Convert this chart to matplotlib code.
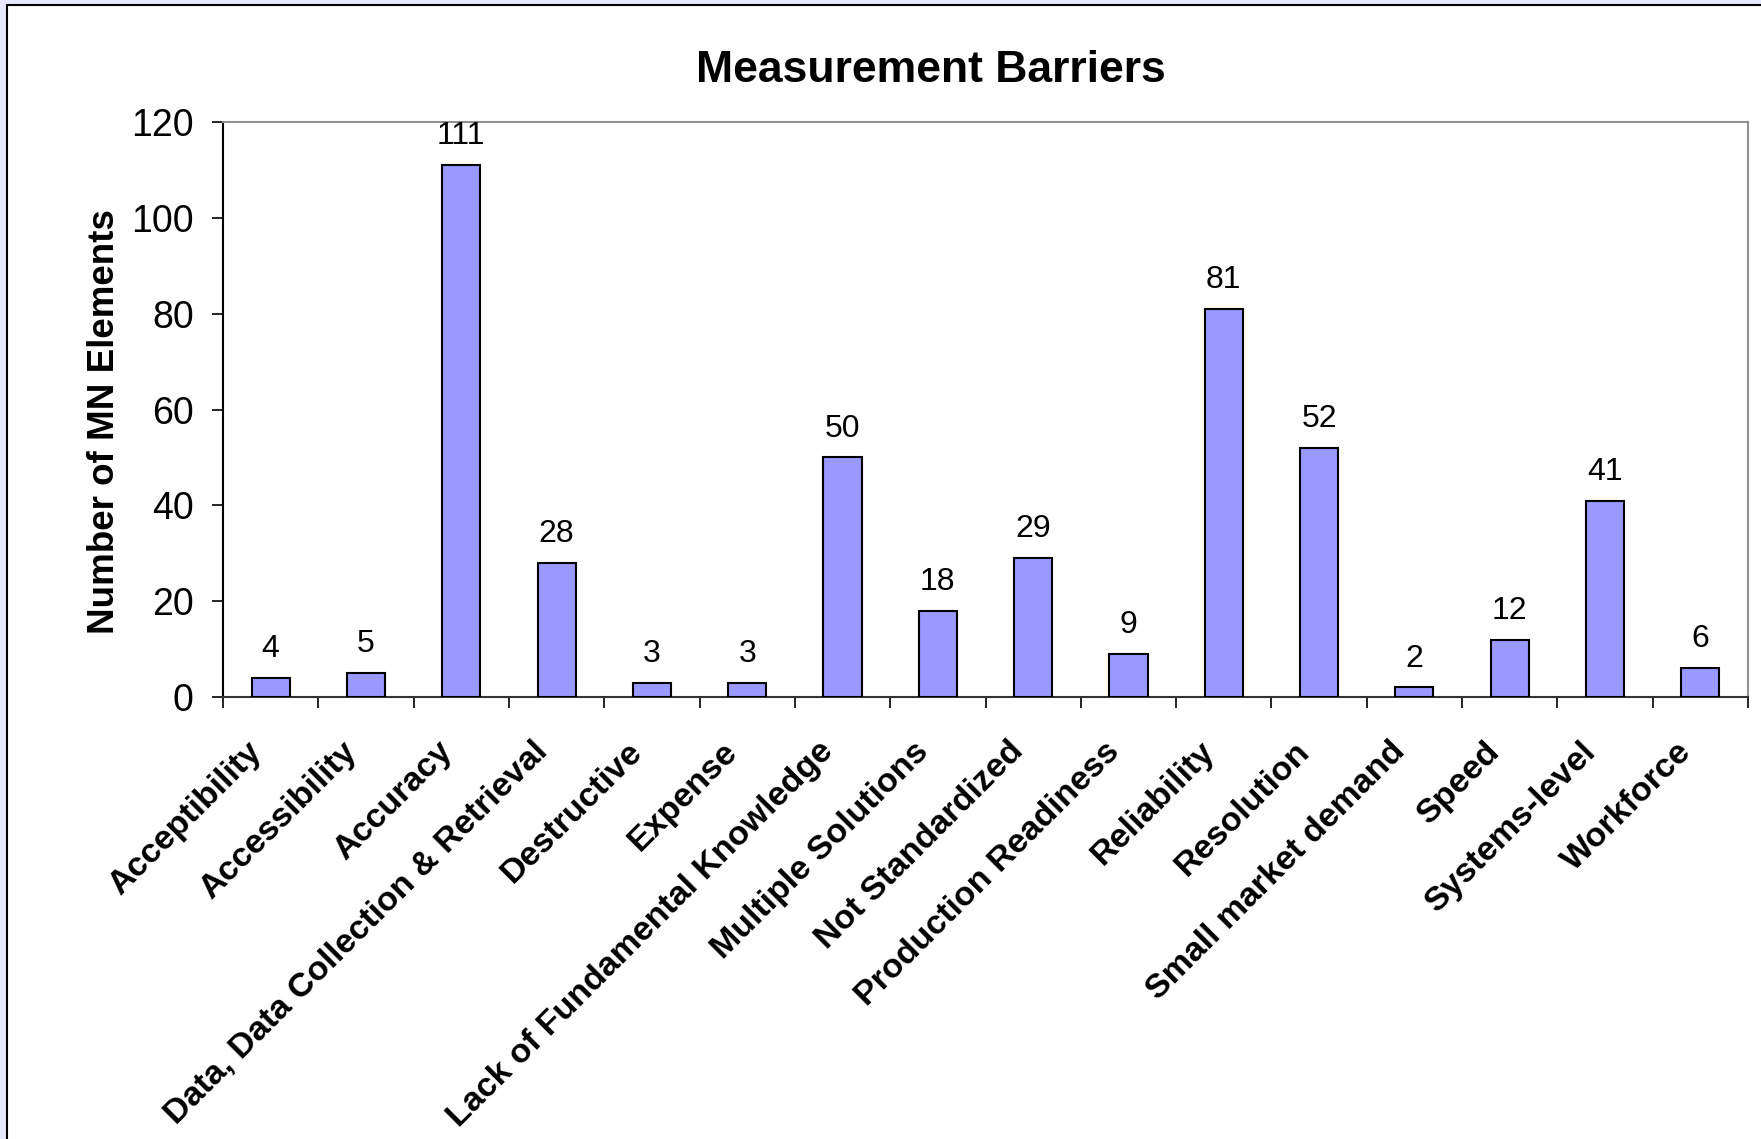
import matplotlib
matplotlib.use("Agg")
import matplotlib.pyplot as plt
from matplotlib.patches import Rectangle
import matplotlib.transforms as mtransforms
import numpy as np

categories = ["Acceptibility", "Accessibility", "Accuracy", "Data, Data Collection & Retrieval",
              "Destructive", "Expense", "Lack of Fundamental Knowledge", "Multiple Solutions",
              "Not Standardized", "Production Readiness", "Reliability", "Resolution",
              "Small market demand", "Speed", "Systems-level", "Workforce"]
values = [4, 5, 111, 28, 3, 3, 50, 18, 29, 9, 81, 52, 2, 12, 41, 6]
yticks = [0, 20, 40, 60, 80, 100, 120]

plt.rcParams['font.family'] = ['Liberation Sans', 'DejaVu Sans']

W, H = 1761, 1139
fig = plt.figure(figsize=(W/100, H/100), dpi=100)
fig.patch.set_facecolor('#E7E8FB')

# white panel
fig.patches.append(Rectangle((7/W, -0.1), 1.2, 1 - 5/H + 0.1, transform=fig.transFigure,
                             facecolor='white', edgecolor='black', linewidth=1.5, zorder=-10))

left, right, top, bottom = 223, 1748, 122, 697
ax = fig.add_axes([left/W, 1 - bottom/H, (right-left)/W, (bottom-top)/H])
ax.set_facecolor('white')

x = np.arange(len(categories))
ax.bar(x, values, width=0.4, color='#9999FF', edgecolor='black', linewidth=1.5, zorder=3)

for xi, v in zip(x, values):
    ax.annotate(str(v), (xi, v), xytext=(0, 15), textcoords='offset points',
                ha='center', va='baseline', fontsize=23, color='black', clip_on=False)

ax.set_xlim(-0.5, len(categories) - 0.5)
ax.set_ylim(0, 120)
ax.set_yticks(yticks)
ax.set_yticklabels([str(t) for t in yticks], fontsize=27)
ax.tick_params(axis='y', direction='out', length=8, width=1.2, pad=13, color='black')

ax.set_xticks(x)
ax.set_xticklabels(categories, rotation=45, ha='right', va='top', rotation_mode='anchor',
                   fontsize=24.5, fontweight='bold')
ax.tick_params(axis='x', which='major', length=0, pad=28)
ax.set_xticks(np.arange(len(categories) + 1) - 0.5, minor=True)
ax.tick_params(axis='x', which='minor', direction='out', length=8, width=1.2, color='black')
offset = mtransforms.ScaledTranslation(-25/100, 0, fig.dpi_scale_trans)
for lab in ax.get_xticklabels():
    lab.set_transform(lab.get_transform() + offset)

ax.spines['left'].set_color('black')
ax.spines['left'].set_linewidth(1.5)
ax.spines['bottom'].set_color('#333333')
ax.spines['bottom'].set_linewidth(1.5)
ax.spines['top'].set_color('#909090')
ax.spines['top'].set_linewidth(1.5)
ax.spines['right'].set_color('#909090')
ax.spines['right'].set_linewidth(1.5)

fig.text(931/W, 1 - 70/H, "Measurement Barriers", ha='center', va='center',
         fontsize=32, fontweight='bold')
fig.text(105/W, 1 - 422/H, "Number of MN Elements", ha='center', va='center',
         rotation=90, fontsize=26.5, fontweight='bold')

fig.savefig("out.png", dpi=100, facecolor=fig.get_facecolor())
